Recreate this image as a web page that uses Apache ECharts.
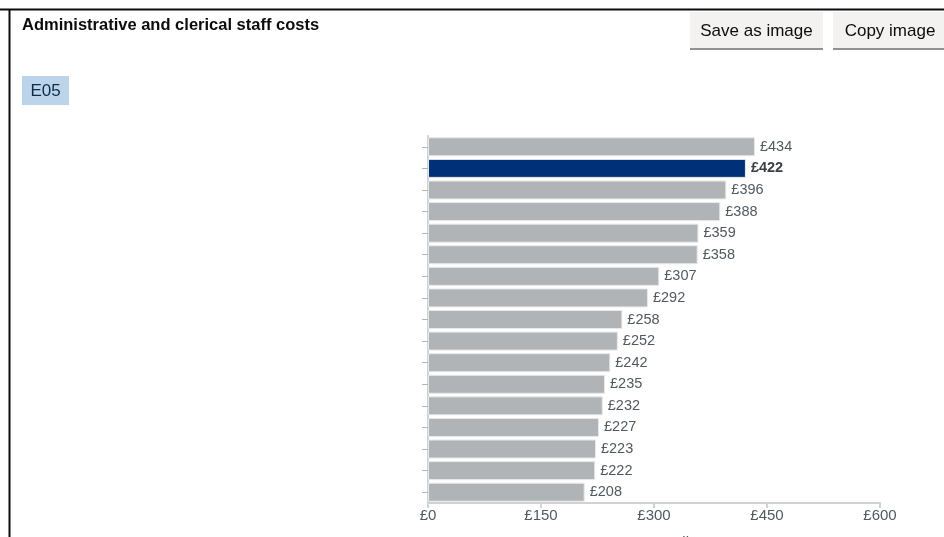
<!DOCTYPE html>
<html>
<head>
<meta charset="utf-8">
<script src="https://cdn.jsdelivr.net/npm/echarts@6/dist/echarts.min.js"></script>
<style>
html,body{margin:0;padding:0;background:#fff;}
#chart{width:944px;height:537px;}
</style>
</head>
<body>
<div id="chart"></div>
<script>
const categories = ["School 1","School 2","School 3","School 4","School 5","School 6","School 7","School 8","School 9","School 10","School 11","School 12","School 13","School 14","School 15","School 16","School 17"];
const values = [434, 422, 396, 388, 359, 358, 307, 292, 258, 252, 242, 235, 232, 227, 223, 222, 208];
const highlightIndex = 1;
const xTicks = [0, 150, 300, 450, 600];

const chart = echarts.init(document.getElementById('chart'), null, {renderer: 'canvas'});
const font = '"Liberation Sans", Arial, sans-serif';

const data = values.map((v, i) => ({
  value: v,
  itemStyle: { color: i === highlightIndex ? '#003078' : '#b1b4b6' },
  label: i === highlightIndex ? { fontWeight: 'bold', color: '#383f43' } : {}
}));

chart.setOption({
  animation: false,
  textStyle: { fontFamily: font },
  title: {
    text: 'Administrative and clerical staff costs',
    left: 17, top: 12,
    textStyle: { fontSize: 16.5, fontWeight: 'bold', color: '#0b0c0c', fontFamily: font }
  },
  graphic: [
    { type: 'line', shape: { x1: 0, y1: 9.5, x2: 944, y2: 9.5 }, style: { stroke: '#0b0c0c', lineWidth: 2 } },
    { type: 'line', shape: { x1: 9.5, y1: 9, x2: 9.5, y2: 537 }, style: { stroke: '#0b0c0c', lineWidth: 2 } },
    { type: 'rect', shape: { x: 690, y: 12, width: 133, height: 38 }, style: { fill: '#929191' } },
    { type: 'rect', shape: { x: 690, y: 12, width: 133, height: 36 }, style: { fill: '#f3f2f1' } },
    { type: 'text', x: 756.5, y: 31, style: { text: 'Save as image', fontSize: 17, fill: '#0b0c0c', fontFamily: font, align: 'center', verticalAlign: 'middle' } },
    { type: 'rect', shape: { x: 833, y: 12, width: 111, height: 38 }, style: { fill: '#929191' } },
    { type: 'rect', shape: { x: 833, y: 12, width: 111, height: 36 }, style: { fill: '#f3f2f1' } },
    { type: 'text', x: 890, y: 31, style: { text: 'Copy image', fontSize: 17, fill: '#0b0c0c', fontFamily: font, align: 'center', verticalAlign: 'middle' } },
    { type: 'rect', shape: { x: 22, y: 76, width: 47, height: 29 }, style: { fill: '#bbd4ea' } },
    { type: 'text', x: 45.5, y: 91, style: { text: 'E05', fontSize: 17, fill: '#0c2d4a', fontFamily: font, align: 'center', verticalAlign: 'middle' } }
  ],
  grid: { left: 428, right: 64, top: 136, bottom: 34, containLabel: false, outerBoundsMode: 'none' },
  xAxis: {
    type: 'value',
    min: 0, max: 600, interval: 150,
    name: '£ per pupil',
    nameLocation: 'middle',
    nameGap: 32,
    nameTextStyle: { fontSize: 15, color: '#505a5f' },
    axisLine: { show: true, lineStyle: { color: '#d0d2d3', width: 2 } },
    axisTick: { show: true, length: 5, lineStyle: { color: '#d0d2d3', width: 2 } },
    splitLine: { show: false },
    axisLabel: { fontSize: 15, color: '#505a5f', margin: 5, formatter: v => xTicks.includes(v) ? '£' + v : '' }
  },
  yAxis: {
    type: 'category',
    data: categories,
    inverse: true,
    axisLine: { show: true, lineStyle: { color: '#d0d2d3', width: 2 } },
    axisTick: { show: true, alignWithLabel: true, length: 6, lineStyle: { color: '#b1b4b6' } },
    axisLabel: { show: false }
  },
  series: [{
    type: 'bar',
    data: data,
    barCategoryGap: '12%',
    itemStyle: { borderColor: '#e8e9ea', borderWidth: 1 },
    label: {
      show: true, position: 'right', distance: 5,
      fontSize: 14.5, color: '#505a5f',
      formatter: p => '£' + p.value
    }
  }]
});
</script>
</body>
</html>
